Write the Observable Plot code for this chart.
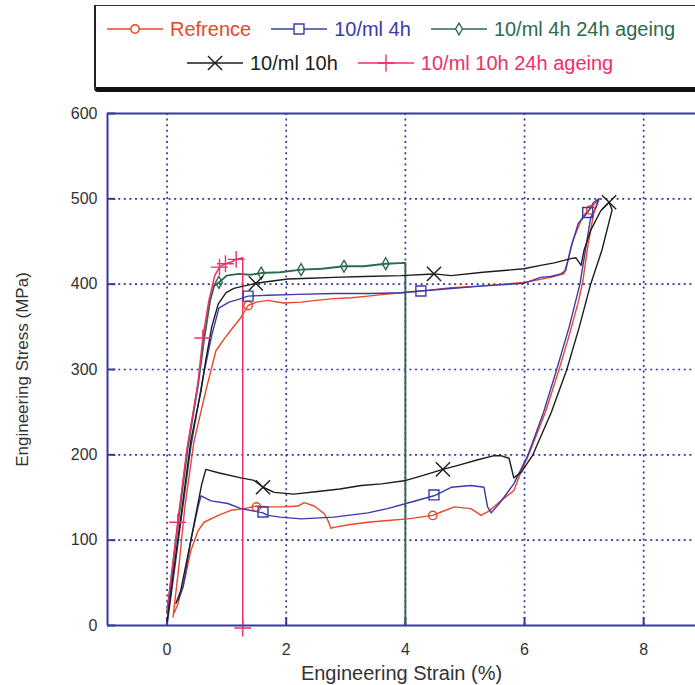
<!DOCTYPE html>
<html><head><meta charset="utf-8">
<script src="https://cdn.jsdelivr.net/npm/d3@7"></script>
<script src="https://cdn.jsdelivr.net/npm/@observablehq/plot@0.6"></script>
<style>
html,body{margin:0;padding:0;background:#fff;overflow:hidden;width:695px;height:685px}
#wrap{position:relative;width:695px;font-family:"Liberation Sans",Arial,sans-serif}
#legend{position:relative;height:95px;overflow:hidden}
#box{position:absolute;left:94px;top:5px;width:620px;height:81px;border:1.5px solid #333;border-left:2px solid #222;border-bottom:5px solid #111;border-radius:0 0 0 4px;background:#fff}
.row{position:absolute;display:flex;align-items:center;gap:20px;font-size:20px;height:24px;white-space:nowrap}
.item{display:flex;align-items:center;gap:7px}
</style></head>
<body>
<div id="wrap">
  <div id="legend"><div id="box"><div class="row" id="row1" style="left:11px;top:11px"></div><div class="row" id="row2" style="left:91px;top:45px"></div></div></div>
  <div id="chart"></div>
</div>
<script>
// ---- data: [strain %, stress MPa] ----
const seriesNames = ["Refrence", "10/ml 4h", "10/ml 4h 24h ageing", "10/ml 10h", "10/ml 10h 24h ageing"];
const seriesColors = ["#e8472b", "#3b3ba8", "#2e6a4f", "#1c1c1c", "#ee2f68"];
const seriesSymbols = ["circle", "square", "diamond", "times", "plus"];

const refCurve = [
  [0.10,10],[0.20,70],[0.30,140],[0.45,215],[0.65,275],[0.82,322],[0.95,335],[1.07,346],[1.24,361],[1.36,375],[1.50,379],[1.69,381],[1.95,378],[2.25,379],[2.50,381],[2.80,383],[3.10,384],[3.37,386],[3.65,388],[3.93,390],[4.40,393],[4.77,396],[5.30,398],[5.99,402],[6.44,408],[6.66,412],[6.73,428],[6.81,451],[6.98,480],[7.11,489],[7.25,500],
  [7.16,483],[7.06,443],[6.98,404],[6.91,381],[6.75,340],[6.58,300],[6.35,250],[6.07,200],[5.94,180],[5.82,158],[5.60,146],[5.40,134],[5.27,129],[5.10,137],[4.82,139],[4.60,133],[4.46,129],[4.04,125],[3.70,123],[3.37,121],[3.05,118],[2.80,115],[2.75,114],[2.70,123],[2.64,131],[2.47,140],[2.30,144],[2.20,140],[1.95,139],[1.69,139],[1.50,140],[1.29,137],[1.07,135],[0.86,129],[0.62,121],[0.52,111],[0.40,88],[0.30,55],[0.18,25],[0.12,15]
];
const blueCurve = [
  [0,0],[0.20,105],[0.40,210],[0.60,290],[0.75,340],[0.87,372],[1.04,379],[1.24,383],[1.36,386],[1.69,387],[2.20,388],[2.80,389],[3.40,389],[3.93,390],[4.26,392],[4.77,395],[5.32,398],[5.99,401],[6.27,408],[6.44,409],[6.61,412],[6.69,416],[6.78,443],[6.90,471],[7.06,484],[7.16,496],[7.25,500],
  [7.20,490],[7.11,478],[7.03,443],[6.93,400],[6.75,350],[6.54,300],[6.32,250],[6.06,200],[5.82,166],[5.60,145],[5.44,132],[5.38,139],[5.32,162],[5.10,164],[4.77,162],[4.48,152],[4.01,143],[3.70,137],[3.37,132],[2.80,127],[2.25,125],[1.90,127],[1.69,129],[1.61,132],[1.24,137],[1.02,143],[0.74,146],[0.57,152],[0.52,139],[0.40,100],[0.27,45],[0.18,29]
];
const greenCurve = [
  [0,15],[0.18,118],[0.35,210],[0.52,282],[0.62,335],[0.72,380],[0.79,398],[0.87,402],[1.00,410],[1.20,412],[1.40,411],[1.58,413],[1.90,414],[2.25,417],[2.60,418],[2.97,421],[3.30,421],[3.67,424],[4.00,425],[4.00,0]
];
const blackCurve = [
  [0,5],[0.18,100],[0.40,217],[0.57,275],[0.65,311],[0.75,350],[0.86,377],[0.99,390],[1.12,395],[1.30,398],[1.49,401],[1.80,404],[2.03,406],[2.40,407],[2.80,408],[3.30,409],[3.93,410],[4.48,412],[4.77,410],[5.30,414],[5.99,418],[6.27,422],[6.50,425],[6.78,430],[6.86,431],[6.95,422],[7.00,440],[7.11,463],[7.28,486],[7.42,496],
  [7.47,487],[7.30,440],[7.11,400],[6.92,350],[6.71,300],[6.45,250],[6.14,200],[5.95,180],[5.82,173],[5.74,196],[5.60,199],[5.49,199],[5.20,194],[4.90,188],[4.63,183],[4.30,176],[4.01,170],[3.60,166],[3.26,164],[2.90,160],[2.53,157],[2.13,154],[1.80,156],[1.61,162],[1.46,170],[1.24,173],[0.86,179],[0.65,183],[0.58,165],[0.40,100],[0.23,41],[0.15,26]
];
const pinkCurve = [
  [0,15],[0.18,121],[0.33,205],[0.45,255],[0.52,285],[0.60,337],[0.70,380],[0.80,410],[0.88,420],[0.98,424],[1.08,426],[1.16,429],[1.27,431],[1.27,0]
];

const refMarks = [[1.36,375],[1.50,139],[4.46,129],[7.11,487]];
const blueMarks = [[1.36,386],[4.26,392],[7.06,484],[1.61,133],[4.48,153]];
const greenMarks = [[0.87,402],[1.58,413],[2.25,417],[2.97,421],[3.67,424]];
const blackMarks = [[1.49,401],[4.48,412],[7.42,496],[1.61,162],[4.63,183]];
const pinkMarks = [[0.18,121],[0.60,337],[0.88,420],[0.98,424],[1.16,429],[1.27,-3]];

const xTicks = [0, 2, 4, 6, 8];
const yTicks = [0, 100, 200, 300, 400, 500, 600];
const xLabel = "Engineering Strain (%)";
const yLabel = "Engineering Stress (MPa)";

// ---- styling ----
const gridColor = "#3535a0";
const frameColor = "#3838a2";
const symbolR = [4.2, 5.6, 3.6, 6.5, 5.5];
const lineWidths = [1.4, 1.4, 1.9, 1.4, 1.5];

const curves = [refCurve, blueCurve, greenCurve, blackCurve, pinkCurve];
const marks = [refMarks, blueMarks, greenMarks, blackMarks, pinkMarks];
const drawOrder = [2, 4, 0, 1, 3];

const chartMarks = [
  Plot.ruleX(xTicks, {stroke: gridColor, strokeWidth: 1.7, strokeDasharray: "2,3.6"}),
  Plot.ruleY(yTicks.filter(d => d > 0 && d < 600), {stroke: gridColor, strokeWidth: 1.7, strokeDasharray: "2,3.6"}),
  Plot.ruleX(xTicks, {y1: 0, y2: 9, stroke: frameColor, strokeWidth: 2}),
  Plot.ruleY(yTicks, {x1: -1, x2: -0.86, stroke: frameColor, strokeWidth: 2}),
];
for (const i of drawOrder) {
  chartMarks.push(Plot.line(curves[i], {x: d => d[0], y: d => d[1], stroke: seriesColors[i], strokeWidth: lineWidths[i]}));
}
for (const i of drawOrder) {
  chartMarks.push(Plot.dot(marks[i], {x: d => d[0], y: d => d[1], symbol: seriesSymbols[i], r: symbolR[i], stroke: seriesColors[i], fill: "none", strokeWidth: 1.4}));
}
chartMarks.push(
  Plot.ruleX([-1], {stroke: frameColor, strokeWidth: 2}),
  Plot.ruleY([0, 600], {stroke: frameColor, strokeWidth: 2}),
  Plot.axisX({ticks: xTicks, tickSize: 0, tickPadding: 18, label: null, fontSize: 16, fill: "#333"}),
  Plot.axisY({ticks: yTicks, tickSize: 0, tickPadding: 10, label: null, fontSize: 16, fill: "#333"}),
  Plot.text([xLabel], {text: d => d, frameAnchor: "bottom", lineAnchor: "middle", textAnchor: "middle", dy: 48, fontSize: 20, fill: "#333"}),
  Plot.text([yLabel], {text: d => d, frameAnchor: "left", lineAnchor: "middle", textAnchor: "middle", dx: -85, rotate: -90, fontSize: 17, fill: "#333"})
);

const plot = Plot.plot({
  width: 695, height: 590,
  marginTop: 18, marginLeft: 107, marginRight: 0, marginBottom: 60,
  x: {domain: [-1, 8.87]},
  y: {domain: [0, 600]},
  style: {fontFamily: "Liberation Sans, Arial, sans-serif", fontSize: "16px", color: "#333", background: "#fff", overflow: "visible"},
  marks: chartMarks
});
document.getElementById("chart").appendChild(plot);

// ---- legend ----
const rows = [[0, 1, 2], [3, 4]];
const symbolTypes = {circle: d3.symbolCircle, square: d3.symbolSquare, diamond: d3.symbolDiamond, times: d3.symbolTimes, plus: d3.symbolPlus};
rows.forEach((row, ri) => {
  const el = d3.select("#row" + (ri + 1));
  for (const i of row) {
    const item = el.append("div").attr("class", "item");
    const svg = item.append("svg").attr("width", 56).attr("height", 18);
    svg.append("line").attr("x1", 0).attr("x2", 56).attr("y1", 9).attr("y2", 9).attr("stroke", seriesColors[i]).attr("stroke-width", 1.5);
    svg.append("path").attr("transform", "translate(28,9)")
      .attr("d", d3.symbol(symbolTypes[seriesSymbols[i]], Math.PI * symbolR[i] * symbolR[i])())
      .attr("fill", "white").attr("stroke", seriesColors[i]).attr("stroke-width", 1.4);
    item.append("span").text(seriesNames[i]).style("color", seriesColors[i]);
  }
});
</script>
</body></html>
